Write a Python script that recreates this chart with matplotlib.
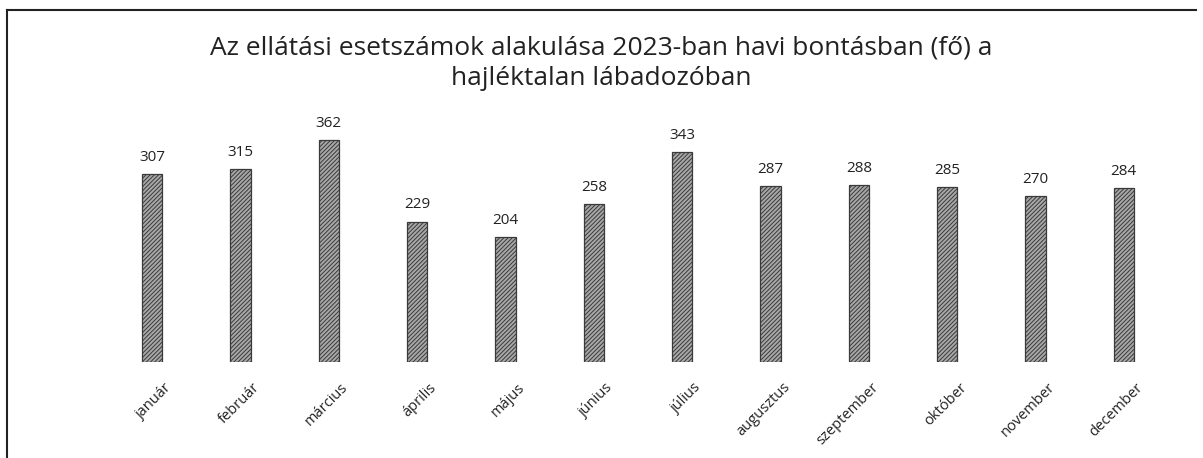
import matplotlib
matplotlib.use('Agg')
import matplotlib.pyplot as plt
import matplotlib.transforms as mtransforms
from matplotlib.lines import Line2D

months = ['január', 'február', 'március', 'április', 'május', 'június',
          'július', 'augusztus', 'szeptember', 'október', 'november', 'december']
cases = [307, 315, 362, 229, 204, 258, 343, 287, 288, 285, 270, 284]

plt.rcParams['font.family'] = ['Open Sans', 'DejaVu Sans']
plt.rcParams['hatch.color'] = '#505050'
plt.rcParams['hatch.linewidth'] = 0.7

fig = plt.figure(figsize=(12.03, 4.58), dpi=100)
ax = fig.add_axes([0.0898, 0.21, 0.881, 0.535])

x = range(len(months))
ax.bar(x, cases, width=0.23, color='#a8a8a8', edgecolor='#3a3a3a',
       linewidth=0.9, hatch='////////')
for xi, v in zip(x, cases):
    ax.text(xi, v + 15, str(v), ha='center', va='bottom', fontsize=11, color='#222222')

ax.set_xlim(-0.5, len(months) - 0.5)
ax.set_ylim(0, 400)
ax.set_yticks([])
ax.set_xticks(list(x))
ax.set_xticklabels(months, rotation=45, ha='right', rotation_mode='anchor',
                   fontsize=10.5, color='#222222')
ax.tick_params(axis='x', length=0, pad=13)
shift = mtransforms.ScaledTranslation(12 / 100, 0, fig.dpi_scale_trans)
for lbl in ax.get_xticklabels():
    lbl.set_transform(lbl.get_transform() + shift)
for s in ax.spines.values():
    s.set_visible(False)

fig.text(0.5, 0.862, 'Az ellátási esetszámok alakulása 2023-ban havi bontásban (fő) a\nhajléktalan lábadozóban',
         ha='center', va='center', fontsize=19, color='#222222', linespacing=1.3)

# frame around the chart
fig.add_artist(Line2D([7 / 1203, 7 / 1203], [0, 1 - 10 / 458], transform=fig.transFigure,
                      color='#222222', linewidth=1.5))
fig.add_artist(Line2D([7 / 1203, 1196 / 1203], [1 - 10 / 458, 1 - 10 / 458],
                      transform=fig.transFigure, color='#222222', linewidth=1.5))

fig.savefig('out.png', dpi=100)
